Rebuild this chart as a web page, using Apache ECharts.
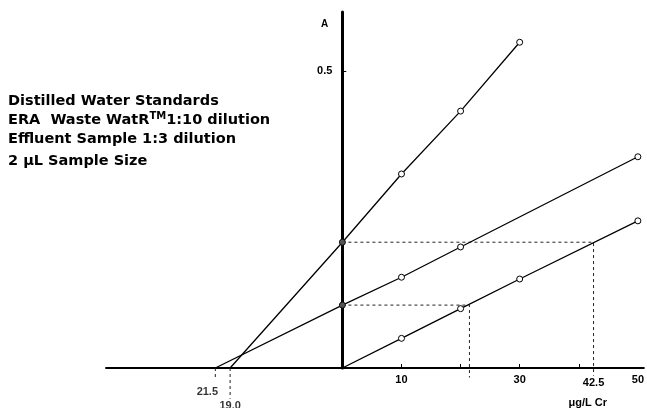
<!DOCTYPE html>
<html>
<head>
<meta charset="utf-8">
<script src="https://cdn.jsdelivr.net/npm/echarts@6/dist/echarts.min.js"></script>
<style>
html,body{margin:0;padding:0;background:#fff;}
#chart{width:647px;height:408px;}
</style>
</head>
<body>
<div id="chart"></div>
<script>
// ---- data ----
var stdX = [0, 10, 20, 30, 50];                 // Distilled Water Standards
var stdA = [0, 0.050, 0.100, 0.150, 0.248];
var eraX = [-21.5, 0, 10, 20, 50];              // ERA Waste WatR 1:10 dilution
var eraA = [0, 0.106, 0.153, 0.204, 0.356];
var effX = [-19, 0, 10, 20, 30];                // Effluent Sample 1:3 dilution
var effA = [0, 0.212, 0.327, 0.433, 0.549];
var interceptX = [-21.5, -19];                  // extrapolated x-intercepts
var interceptLabels = ['21.5', '19.0'];
var readA = [0.106, 0.212];                     // sample absorbances read across
var readX = [21.5, 42.5];
var xTicks = [10, 20, 30, 40];
var xTickLabels = [10, 30, 42.5, 50];
var yTickLabels = [0.5];
var legendLines = ['Distilled Water Standards', 'ERA  Waste WatR{tm|TM}1:10 dilution', 'Effluent Sample 1:3 dilution', '2 \u00b5L Sample Size'];

var FONT = '"Liberation Sans", Arial, sans-serif';
var X_MIN = -40, X_MAX = 51, GRID_LEFT = 106, GRID_W = 647 - GRID_LEFT;

function lineData(xs, ys) {
  return xs.map(function (x, i) {
    var item = { value: [x, ys[i]] };
    if (ys[i] === 0) item.symbol = 'none';
    else if (x === 0) item.itemStyle = { color: '#555', borderColor: '#111', borderWidth: 1 };
    return item;
  });
}
function solidSeries(name, xs, ys) {
  return {
    name: name, type: 'line', data: lineData(xs, ys), z: 5,
    symbol: 'circle', symbolSize: 6,
    itemStyle: { color: '#fff', borderColor: '#000', borderWidth: 1 },
    lineStyle: { color: '#000', width: 1.3 },
    emphasis: { disabled: true }, silent: true
  };
}
function dashSeries(pts) {
  return {
    type: 'line', data: pts, symbol: 'none', clip: false, z: 3, silent: true,
    lineStyle: { color: '#222', width: 1, type: [3, 3] }
  };
}
var dropA = [-0.015, -0.052];

var series = [
  dashSeries([[0, readA[1]], [readX[1], readA[1]], [readX[1], -0.013]]),
  dashSeries([[0, readA[0]], [readX[0], readA[0]], [readX[0], -0.016]]),
  dashSeries([[interceptX[0], 0], [interceptX[0], dropA[0]]]),
  dashSeries([[interceptX[1], 0], [interceptX[1], dropA[1]]]),
  solidSeries('Distilled Water Standards', stdX, stdA),
  solidSeries('ERA Waste WatR 1:10 dilution', eraX, eraA),
  solidSeries('Effluent Sample 1:3 dilution', effX, effA),
  {
    type: 'scatter', symbolSize: 0, silent: true, clip: false, z: 6,
    data: interceptX.map(function (x, i) {
      return {
        value: [x, 0],
        label: {
          show: true, position: 'bottom', formatter: interceptLabels[i],
          distance: i === 0 ? 18 : 32, offset: [i === 0 ? -8 : 0, 0],
          color: '#000', fontFamily: FONT, fontWeight: 'bold', fontSize: 11
        }
      };
    })
  }
];

var graphics = legendLines.map(function (t, i) {
  var ys = [101.7, 120, 139, 161];
  return {
    type: 'text', x: 8, y: ys[i], silent: true,
    style: {
      text: t, fill: '#000', verticalAlign: 'middle',
      fontFamily: '"DejaVu Sans"', fontWeight: 'bold', fontSize: 14.5,
      rich: { tm: { fontFamily: '"DejaVu Sans"', fontWeight: 'bold', fontSize: 10, fill: '#000', padding: [0, 0, 8, 0] } }
    }
  };
});

// y axis sits at x = 0: shift it right from the grid's left edge
var yAxisOffset = -GRID_W * (0 - X_MIN) / (X_MAX - X_MIN) + 1.5;

var chart = echarts.init(document.getElementById('chart'), null, { renderer: 'canvas' });
chart.setOption({
  animation: false,
  backgroundColor: '#fff',
  grid: { left: GRID_LEFT, right: 0, top: 12, bottom: 40 },
  xAxis: {
    type: 'value', min: X_MIN, max: X_MAX,
    name: '\u03bcg/L Cr', nameLocation: 'end', nameGap: -56,
    nameTextStyle: { align: 'center', verticalAlign: 'top', padding: [29, 0, 0, 0], color: '#000', fontFamily: FONT, fontWeight: 'bold', fontSize: 11 },
    axisLine: { onZero: true, lineStyle: { color: '#000', width: 2 } },
    axisTick: { show: true, customValues: xTicks, inside: true, length: 4, lineStyle: { color: '#000', width: 1 } },
    axisLabel: {
      customValues: xTickLabels, margin: 6, color: '#000', fontFamily: FONT, fontWeight: 'bold', fontSize: 11,
      formatter: function (v) { return v === 42.5 ? '{d|42.5}' : String(v); },
      rich: { d: { padding: [3, 0, 0, 0], color: '#000', fontFamily: FONT, fontWeight: 'bold', fontSize: 11 } }
    },
    splitLine: { show: false }
  },
  yAxis: {
    type: 'value', min: 0, max: 0.6, position: 'left', offset: yAxisOffset,
    name: 'A', nameLocation: 'end', nameGap: -12,
    nameTextStyle: { align: 'right', verticalAlign: 'middle', padding: [0, 14, 0, 0], color: '#000', fontFamily: FONT, fontWeight: 'bold', fontSize: 10 },
    axisLine: { onZero: false, lineStyle: { color: '#000', width: 3 } },
    axisTick: { show: true, customValues: yTickLabels, inside: true, length: 4, lineStyle: { color: '#000', width: 1 } },
    axisLabel: { customValues: yTickLabels, margin: 10, color: '#000', fontFamily: FONT, fontWeight: 'bold', fontSize: 11 },
    splitLine: { show: false }
  },
  graphic: graphics,
  series: series
});
</script>
</body>
</html>
